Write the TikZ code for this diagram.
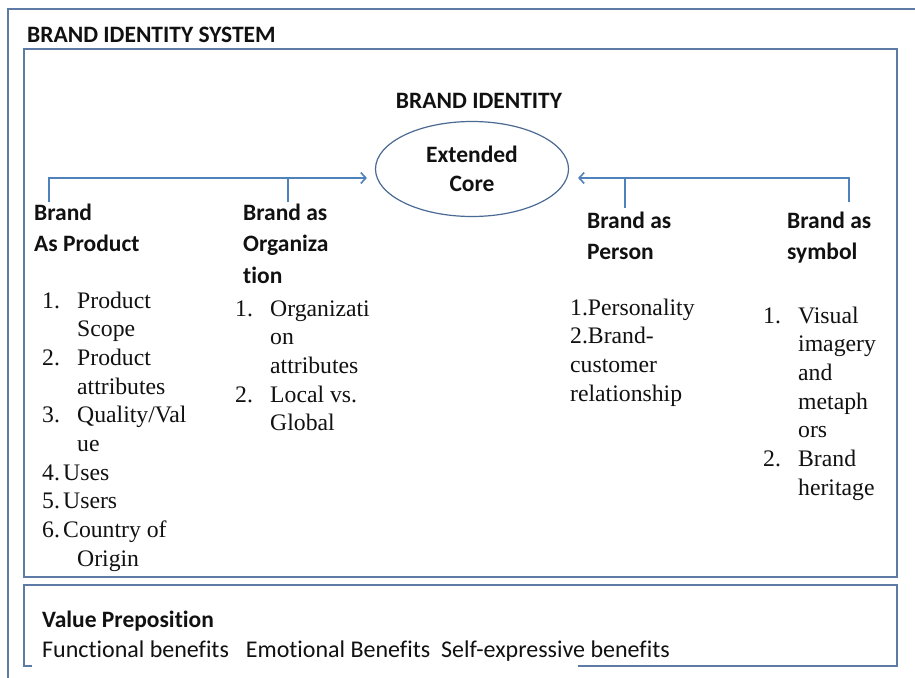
\documentclass[tikz,border=0pt]{standalone}
\usepackage{fontspec}
\setmainfont{Liberation Serif}
\newfontfamily\headfont[Ligatures=NoCommon]{Carlito}
\usetikzlibrary{arrows.meta,shapes.geometric}

\definecolor{framecol}{HTML}{5E7BA6}
\definecolor{arrowcol}{HTML}{4F81BD}
\definecolor{ovalcol}{HTML}{4A6A94}
\definecolor{inkcol}{HTML}{111111}

% hanging list numbers
\newcommand\hangnum[1]{\makebox[35pt][l]{#1}}
\newcommand\hangpad{\hspace*{35pt}}

\tikzset{
  frame/.style={draw=framecol, line width=2pt},
  link/.style={draw=arrowcol, line width=1.6pt},
  linkarrow/.style={link, -{Straight Barb[length=5pt,width=11pt]}},
  heading/.style={inner sep=0pt, anchor=base west, text=inkcol,
    font=\headfont\bfseries\fontsize{23.5}{31.5}\selectfont},
  listtext/.style={inner sep=0pt, anchor=base west, text=inkcol,
    font=\fontsize{23.7}{28.7}\selectfont},
  plaintext/.style={inner sep=0pt, anchor=base west, text=inkcol,
    font=\headfont\fontsize{24}{28}\selectfont},
}

\begin{document}
\begin{tikzpicture}[x=1pt,y=-1pt]
  \useasboundingbox (0,0) rectangle (915,677);
  \fill[white] (0,0) rectangle (915,677);

  % frames
  \draw[frame] (8,680) -- (8,9) -- (918,9);
  \draw[frame] (24,49) rectangle (897,577);
  \draw[frame] (32,666) -- (24,666) -- (24,585) -- (897,585) -- (897,666) -- (578,666);

  % titles
  \node[heading] (systitle) at (27,43) {BRAND IDENTITY SYSTEM};
  \node[heading, anchor=base] (idtitle) at (479,108) {BRAND IDENTITY};

  % core
  \node[ellipse, draw=ovalcol, line width=1.2pt, minimum width=193pt,
        minimum height=95pt, inner sep=0pt, align=center, text=inkcol,
        font=\headfont\bfseries\fontsize{23.5}{29}\selectfont]
        (core) at (472,169) {Extended\\Core};

  % facet headings
  \node[heading] (prodhead) at (34,220)
    {\begin{tabular}[t]{@{}l@{}}Brand\\As Product\end{tabular}};
  \node[heading] (orghead) at (243,220)
    {\begin{tabular}[t]{@{}l@{}}Brand as\\Organiza\\tion\end{tabular}};
  \node[heading] (personhead) at (587,228)
    {\begin{tabular}[t]{@{}l@{}}Brand as\\Person\end{tabular}};
  \node[heading] (symbolhead) at (787,228)
    {\begin{tabular}[t]{@{}l@{}}Brand as\\symbol\end{tabular}};

  % facet lists
  \node[listtext] (prodlist) at (42,308)
    {\begin{tabular}[t]{@{}l@{}}
      \hangnum{1.}Product\\ \hangpad Scope\\
      \hangnum{2.}Product\\ \hangpad attributes\\
      \hangnum{3.}Quality/Val\\ \hangpad ue\\
      \makebox[21pt][l]{4.}Uses\\
      \makebox[21pt][l]{5.}Users\\
      \makebox[21pt][l]{6.}Country of\\ \hangpad Origin
     \end{tabular}};
  \node[listtext] (orglist) at (235,316)
    {\begin{tabular}[t]{@{}l@{}}
      \hangnum{1.}Organizati\\ \hangpad on\\ \hangpad attributes\\
      \hangnum{2.}Local vs.\\ \hangpad Global
     \end{tabular}};
  \node[listtext] (personlist) at (570,315)
    {\begin{tabular}[t]{@{}l@{}}
      1.Personality\\ 2.Brand-\\ customer\\ relationship
     \end{tabular}};
  \node[listtext] (symbollist) at (763,323)
    {\begin{tabular}[t]{@{}l@{}}
      \hangnum{1.}Visual\\ \hangpad imagery\\ \hangpad and\\
      \hangpad metaph\\ \hangpad ors\\
      \hangnum{2.}Brand\\ \hangpad heritage
     \end{tabular}};

  % value proposition
  \node[heading] (vptitle) at (42,627) {Value Preposition};
  \node[plaintext] (vpitems) at (42,657)
    {Functional benefits\hspace{17pt}Emotional Benefits\hspace{11pt}Self-expressive benefits};

  % connectors into the core
  \coordinate (prodtap) at (49,202);
  \coordinate (orgtap) at (288,202);
  \coordinate (persontap) at (625,208);
  \coordinate (symboltap) at (849,202);
  \coordinate (leftin) at ([shift={(-8pt,-9pt)}]core.west);
  \coordinate (rightin) at ([shift={(9pt,-9pt)}]core.east);
  \draw[linkarrow] (prodtap) |- (leftin);
  \draw[link] (orgtap) -- (orgtap |- leftin);
  \draw[linkarrow] (symboltap) |- (rightin);
  \draw[link] (persontap) -- (persontap |- rightin);
\end{tikzpicture}
\end{document}
